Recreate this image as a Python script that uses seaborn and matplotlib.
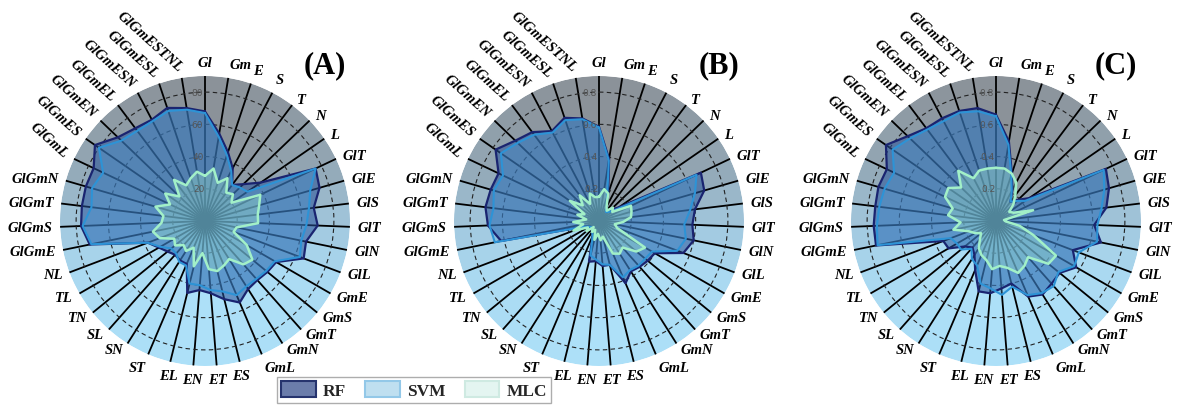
import numpy as np
import matplotlib
matplotlib.use("Agg")
import matplotlib.pyplot as plt
import seaborn as sns
from matplotlib.colors import LinearSegmentedColormap
from matplotlib.patches import Patch

categories = ['Gl', 'Gm', 'E', 'S', 'T', 'N', 'L', 'GlT', 'GlE', 'GlS', 'GlT', 'GlN', 'GlL',
              'GmE', 'GmS', 'GmT', 'GmN', 'GmL', 'ES', 'ET', 'EN', 'EL', 'ST', 'SN', 'SL',
              'TN', 'TL', 'NL', 'GlGmE', 'GlGmS', 'GlGmT', 'GlGmN', 'GlGmL', 'GlGmES',
              'GlGmEN', 'GlGmEL', 'GlGmESN', 'GlGmESL', 'GlGmESTNL']

rf_a = [0.68, 0.55, 0.45, 0.37, 0.28, 0.33, 0.42, 0.76, 0.74, 0.68, 0.70, 0.64, 0.655,
        0.51, 0.50, 0.49, 0.50, 0.55, 0.50, 0.45, 0.43, 0.46, 0.29, 0.29, 0.28, 0.30, 0.33,
        0.38, 0.73, 0.77, 0.77, 0.77, 0.765, 0.83, 0.75, 0.72, 0.71, 0.74, 0.71]
svm_a = [0.67, 0.53, 0.43, 0.35, 0.28, 0.30, 0.32, 0.76, 0.68, 0.65, 0.63, 0.61, 0.63,
         0.50, 0.49, 0.48, 0.48, 0.50, 0.45, 0.43, 0.40, 0.40, 0.30, 0.30, 0.27, 0.27, 0.32,
         0.38, 0.72, 0.76, 0.71, 0.73, 0.70, 0.80, 0.72, 0.70, 0.70, 0.72, 0.70]
mlc_a = [0.28, 0.33, 0.25, 0.30, 0.22, 0.24, 0.20, 0.38, 0.35, 0.33, 0.33, 0.20, 0.19,
         0.30, 0.38, 0.36, 0.28, 0.30, 0.32, 0.30, 0.20, 0.29, 0.18, 0.22, 0.20, 0.24, 0.22,
         0.30, 0.33, 0.27, 0.26, 0.32, 0.24, 0.30, 0.22, 0.32, 0.25, 0.28, 0.31]

rf_b = [0.585, 0.39, 0.18, 0.10, 0.08, 0.10, 0.15, 0.70, 0.68, 0.60, 0.58, 0.60, 0.56,
        0.40, 0.39, 0.38, 0.37, 0.42, 0.28, 0.28, 0.25, 0.26, 0.10, 0.08, 0.07, 0.06, 0.07,
        0.10, 0.62, 0.69, 0.71, 0.70, 0.69, 0.78, 0.72, 0.69, 0.63, 0.675, 0.645]
svm_b = [0.58, 0.38, 0.16, 0.10, 0.07, 0.08, 0.12, 0.67, 0.62, 0.57, 0.53, 0.55, 0.52,
         0.38, 0.37, 0.37, 0.36, 0.38, 0.28, 0.27, 0.24, 0.22, 0.10, 0.08, 0.06, 0.06, 0.07,
         0.10, 0.66, 0.68, 0.66, 0.68, 0.66, 0.74, 0.70, 0.67, 0.62, 0.66, 0.64]
mlc_b = [0.15, 0.20, 0.18, 0.10, 0.08, 0.12, 0.10, 0.22, 0.21, 0.20, 0.15, 0.10, 0.12,
         0.33, 0.30, 0.22, 0.24, 0.22, 0.10, 0.12, 0.08, 0.12, 0.06, 0.08, 0.05, 0.10, 0.08,
         0.17, 0.10, 0.16, 0.08, 0.14, 0.10, 0.22, 0.14, 0.20, 0.12, 0.18, 0.15]

rf_c = [0.66, 0.50, 0.31, 0.22, 0.15, 0.19, 0.25, 0.755, 0.73, 0.69, 0.61, 0.665, 0.51,
        0.575, 0.51, 0.52, 0.54, 0.51, 0.40, 0.42, 0.45, 0.45, 0.33, 0.25, 0.22, 0.25, 0.34,
        0.35, 0.76, 0.76, 0.755, 0.76, 0.75, 0.83, 0.76, 0.72, 0.72, 0.72, 0.71]
svm_c = [0.65, 0.48, 0.30, 0.21, 0.15, 0.18, 0.22, 0.74, 0.70, 0.66, 0.63, 0.64, 0.55,
         0.56, 0.50, 0.54, 0.53, 0.50, 0.42, 0.46, 0.42, 0.40, 0.30, 0.28, 0.23, 0.28, 0.28,
         0.30, 0.75, 0.74, 0.73, 0.72, 0.70, 0.78, 0.74, 0.71, 0.70, 0.71, 0.69]
mlc_c = [0.33, 0.33, 0.31, 0.27, 0.20, 0.15, 0.10, 0.12, 0.24, 0.05, 0.06, 0.15, 0.25,
         0.43, 0.42, 0.30, 0.33, 0.35, 0.30, 0.28, 0.30, 0.25, 0.23, 0.20, 0.15, 0.12, 0.15,
         0.18, 0.27, 0.22, 0.30, 0.28, 0.35, 0.36, 0.30, 0.39, 0.30, 0.33, 0.33]

panel_titles = ['(A)', '(B)', '(C)']
rtick_values = [0.2, 0.4, 0.6, 0.8]
rtick_labels = [['20', '40', '60', '80'],
                ['0.2', '0.4', '0.6', '0.8'],
                ['0.2', '0.4', '0.6', '0.8']]
series_names = ['RF', 'SVM', 'MLC']

panels = [(rf_a, svm_a, mlc_a), (rf_b, svm_b, mlc_b), (rf_c, svm_c, mlc_c)]

sns.set_theme(style='white')
plt.rcParams['font.family'] = ['Liberation Serif', 'DejaVu Serif']

W, H = 1177, 406
fig = plt.figure(figsize=(W / 100, H / 100), dpi=100)
centers = [205, 599, 996]
cy = 222
R = 145
rmax = 0.9

n = len(categories)
theta = np.arange(n) * 2 * np.pi / n
width = 2 * np.pi / n
bg_cmap = LinearSegmentedColormap.from_list(
    'bg', [(0.0, '#8b9299'), (0.3, '#93a8b6'), (0.5, '#a0c5db'), (0.7, '#aad9f1'), (1.0, '#ade0f8')])

styles = {
    'RF': dict(fill='#285299', alpha=0.55, edge='#1a2470', lw=1.6),
    'SVM': dict(fill='#4fa8e2', alpha=0.30, edge='#2d93d6', lw=1.5),
    'MLC': dict(fill='#9fe6cc', alpha=0.35, edge='#a2f0c8', lw=1.8),
}

for k, (cx, vals) in enumerate(zip(centers, panels)):
    ax = fig.add_axes([(cx - R) / W, (H - cy - R) / H, 2 * R / W, 2 * R / H], projection='polar')
    ax.set_theta_zero_location('N')
    ax.set_theta_direction(-1)
    ax.set_ylim(0, rmax)
    ax.set_axisbelow('line')
    centers_sec = theta + width / 2
    tcol = (1 - np.cos(centers_sec)) / 2
    ax.bar(centers_sec, np.full(n, rmax), width=width, bottom=0,
           color=[bg_cmap(t) for t in tcol], edgecolor='none', zorder=0.5)
    ax.set_xticks(theta)
    ax.set_xticklabels([])
    ax.set_yticks(rtick_values)
    ax.set_yticklabels([])
    ax.xaxis.grid(True, color='black', lw=1.3, ls='-')
    ax.yaxis.grid(True, color='#222222', lw=0.8, ls=(0, (4, 3)))
    ax.spines['polar'].set_visible(False)
    ax.tick_params(axis='both', length=0, pad=0)

    th_closed = np.append(theta, theta[0])
    for name, v in zip(series_names, vals):
        st = styles[name]
        r_closed = np.append(np.array(v), v[0])
        ax.fill(th_closed, r_closed, color=st['fill'], alpha=st['alpha'], zorder=2, lw=0)
        sns.lineplot(x=th_closed, y=r_closed, ax=ax, sort=False, estimator=None,
                     color=st['edge'], lw=st['lw'], zorder=3)
    ax.set_xlabel('')
    ax.set_ylabel('')

    for rv, rl in zip(rtick_values, rtick_labels[k]):
        ax.text(-0.02, rv, rl, fontsize=6.5, color='#555555', ha='right', va='center',
                zorder=4, family=['DejaVu Sans'])

    for i, (a, lab) in enumerate(zip(theta, categories)):
        s, c = np.sin(a), np.cos(a)
        if i >= 32:
            ax.text(a, 0.955, lab, rotation=-42, rotation_mode='anchor', ha='right', va='center',
                    fontsize=10.5, fontweight='bold', fontstyle='italic', color='black')
            continue
        if abs(s) < 0.1 or (c < -0.9 and abs(s) < 0.3):
            ha = 'center'
        elif s > 0:
            ha = 'left'
        else:
            ha = 'right'
        if c > 0.85:
            va = 'bottom'
        elif c < -0.85:
            va = 'top'
        else:
            va = 'center'
        ax.text(a, 0.945, lab, ha=ha, va=va, fontsize=10.5, fontweight='bold',
                fontstyle='italic', color='black')

    fig.text((cx + 120) / W, (H - 66) / H, panel_titles[k], fontsize=22, fontweight='bold',
             ha='center', va='center', color='black')

handles = [Patch(facecolor='#6b7dab', edgecolor='#26346e', lw=1.5),
           Patch(facecolor='#bfdff0', edgecolor='#93c8e8', lw=1.5),
           Patch(facecolor='#e4f5f1', edgecolor='#cfeae2', lw=1.5)]
leg = fig.legend(handles, series_names, loc='center', bbox_to_anchor=(414 / W, (H - 391) / H),
                 ncol=3, frameon=True, fancybox=False, edgecolor='#999999',
                 prop=dict(family='Liberation Serif', weight='bold', size=12.5),
                 handlelength=2.0, handleheight=1.0, columnspacing=1.1, borderpad=0.25,
                 handletextpad=0.4, borderaxespad=0)
leg.get_frame().set_linewidth(1.0)

fig.savefig('out.png', dpi=100, facecolor='white')
